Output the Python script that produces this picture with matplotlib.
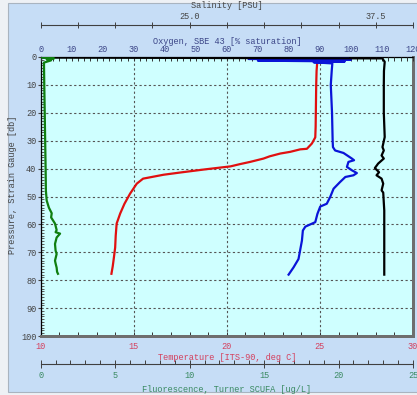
"""CTD cast profile: temperature, oxygen, salinity, fluorescence vs pressure."""
import matplotlib

matplotlib.use("Agg")
import matplotlib.pyplot as plt
from matplotlib.patches import Rectangle
from matplotlib.ticker import FixedLocator, MultipleLocator

# --- data ----------------------------------------------------------------
temp_p = [0.5, 5, 10, 15, 20, 25, 28.8, 31, 32.9, 33.1, 34, 34.6, 35.6, 36.4,
          37.6, 38.4, 39.2, 40.3, 41.4, 42.2, 43.6, 45.4, 47.2, 49, 52.6, 56.1,
          59.7, 64, 68.3, 72, 75, 77.7]
temp_c = [24.87, 24.82, 24.8, 24.79, 24.78, 24.77, 24.75, 24.57, 24.3, 23.94,
          23.4, 22.87, 22.3, 21.97, 21.25, 20.7, 20.2, 18.8, 17.5, 16.6, 15.5,
          15.16, 14.98, 14.8, 14.5, 14.27, 14.08, 14.03, 14.0, 13.93, 13.87, 13.8]

oxy_p = [0.4, 0.7, 1.0, 1.3, 1.6, 1.9, 2.3, 5, 10, 15, 20, 25, 30, 32.3, 33.5,
         34.4, 36.4, 37, 37.6, 39.4, 40.6, 41.6, 42.4, 43, 44.8, 47.2, 50.2,
         52.6, 53.6, 56.2, 59.2, 60.8, 62.2, 65.8, 69.4, 72.4, 75.4, 78]
oxy_sat = [99, 67, 100, 70, 98, 88, 94, 93.8, 93.5, 93.7, 93.9, 94, 94.1, 94.2,
           94.9, 97.6, 100.3, 101, 99.2, 98.7, 100.3, 101.9, 100.8, 98.2, 96.5,
           94.4, 93.3, 92.2, 90.1, 89.2, 88.5, 85.3, 84.5, 84.2, 83.6, 83.1,
           81.5, 79.9]

sal_p = [0.2, 0.5, 1.0, 1.7, 5, 10, 20, 28.7, 32.3, 33.5, 35.3, 36.4, 38.2,
         39.8, 41.3, 42.4, 43.6, 45.4, 47.8, 48.6, 55, 65, 78]
sal_psu = [15.0, 37.95, 38.0, 38.1, 38.05, 38.04, 38.04, 38.1, 37.95, 38.04,
           37.89, 38.04, 37.66, 37.44, 37.72, 37.55, 37.89, 38.0, 37.89, 38.0,
           38.07, 38.07, 38.07]

fl_p = [0.2, 0.5, 0.8, 1.2, 2, 10, 20, 30, 40, 48, 51.4, 54, 56, 57.5, 59.7,
        62, 62.8, 63.3, 64.7, 67, 69.4, 70.6, 73, 74, 75.5, 77, 77.7]
fl_ugl = [0.1, 0.9, 0.4, 0.7, 0.22, 0.24, 0.27, 0.3, 0.33, 0.35, 0.4, 0.55,
          0.74, 0.7, 0.96, 1.07, 1.0, 1.3, 1.07, 0.96, 1.0, 1.07, 0.96, 1.0,
          1.07, 1.1, 1.16]

# --- styling -----------------------------------------------------------------
W, H = 417, 395
PX = 0.72  # points per pixel at dpi 100
plt.rcParams["font.family"] = ["Liberation Mono", "DejaVu Sans Mono"]
plt.rcParams["font.size"] = 6.2

C_TEMP, C_OXY, C_SAL, C_FL = "#d4405e", "#3c4688", "#464646", "#3a8a62"

fig = plt.figure(figsize=(W / 100, H / 100), dpi=100, facecolor="#eef1f5")
fig.patches.append(Rectangle((8 / W, 3 / H), 1.0, 389 / H, transform=fig.transFigure,
                             facecolor="#c6ddf6", edgecolor="#a9b4c0", lw=0.8, zorder=-10))

ax = fig.add_axes([40.7 / W, 59 / H, 372.3 / W, 279 / H])
ax.set_facecolor("#cfffff")
ax.set_xlim(10, 30)
ax.set_ylim(100, 0)

# pressure axis
ax.yaxis.set_major_locator(MultipleLocator(10))
ax.yaxis.set_minor_locator(MultipleLocator(1))
ax.tick_params(axis="y", which="major", direction="out", length=3 * PX, width=0.8,
               colors="#444444", labelsize=6.2, pad=1)
ax.tick_params(axis="y", which="minor", direction="in", length=3 * PX, width=0.6, color="#444444")

# temperature axis (bottom)
ax.xaxis.set_major_locator(MultipleLocator(5))
ax.xaxis.set_minor_locator(MultipleLocator(1))
ax.tick_params(axis="x", which="both", direction="in", length=4 * PX, width=0.7, color="#333333")
ax.tick_params(axis="x", which="major", labelcolor=C_TEMP, pad=4)

ax.grid(True, which="major", color="#555555", lw=0.8, ls=(0, (2, 2.2)))
for side in ("left", "top"):
    ax.spines[side].set_color("black")
    ax.spines[side].set_linewidth(0.9)
for side in ("right", "bottom"):
    ax.spines[side].set_color("#6e6e6e")
    ax.spines[side].set_linewidth(3 * PX)

ax.plot(temp_c, temp_p, color="#e01010", lw=1.6, zorder=3)

# oxygen axis (top)
ax_o = ax.twiny()
ax_o.set_xlim(0, 120)
ax_o.xaxis.set_major_locator(MultipleLocator(10))
ax_o.xaxis.set_minor_locator(MultipleLocator(2))
ax_o.tick_params(axis="x", which="both", direction="in", length=4 * PX, width=0.7,
                 color="#333333", pad=2)
ax_o.tick_params(axis="x", which="major", labelcolor=C_OXY)
for s in ax_o.spines.values():
    s.set_visible(False)
ax_o.plot(oxy_sat, oxy_p, color="#0a14d8", lw=1.6, zorder=3)

# salinity axis (floating, above oxygen)
ax_s = ax.twiny()
ax_s.set_xlim(15, 40)
for name, s in ax_s.spines.items():
    s.set_visible(name == "top")
ax_s.spines["top"].set_position(("axes", 1.1147))
ax_s.spines["top"].set_color("#404040")
ax_s.spines["top"].set_linewidth(0.8)
ax_s.xaxis.set_major_locator(FixedLocator([25, 37.5]))
ax_s.xaxis.set_minor_locator(MultipleLocator(2.5))
ax_s.set_xticklabels(["25.0", "37.5"])
ax_s.tick_params(axis="x", which="both", direction="inout", length=6 * PX, width=0.7,
                 color="#404040", labelcolor=C_SAL, pad=1)
ax_s.plot(sal_psu, sal_p, color="black", lw=1.6, zorder=3)

# fluorescence axis (floating, below temperature)
ax_f = ax.twiny()
ax_f.set_xlim(0, 25)
ax_f.xaxis.set_ticks_position("bottom")
for name, s in ax_f.spines.items():
    s.set_visible(name == "bottom")
ax_f.spines["bottom"].set_position(("axes", -0.1004))
ax_f.spines["bottom"].set_color("#404040")
ax_f.spines["bottom"].set_linewidth(0.8)
ax_f.xaxis.set_major_locator(MultipleLocator(5))
ax_f.xaxis.set_minor_locator(MultipleLocator(1))
ax_f.tick_params(axis="x", which="major", direction="inout", length=8 * PX, width=0.7,
                 color="#404040", labelcolor=C_FL, pad=2)
ax_f.tick_params(axis="x", which="minor", direction="in", length=4 * PX, width=0.7, color="#404040")
ax_f.plot(fl_ugl, fl_p, color="#0f7f10", lw=1.6, zorder=3)

# axis titles
cx = (40.7 + 413) / 2 / W
fig.text(cx, 1 - 6 / H, "Salinity [PSU]", color=C_SAL, ha="center", va="center")
fig.text(cx, 1 - 42 / H, "Oxygen, SBE 43 [% saturation]", color=C_OXY, ha="center", va="center")
fig.text(cx, 1 - 357 / H, "Temperature [ITS-90, deg C]", color=C_TEMP, ha="center", va="center")
fig.text(cx, 1 - 389 / H, "Fluorescence, Turner SCUFA [ug/L]", color=C_FL, ha="center", va="center")
fig.text(13 / W, 1 - 185 / H, "Pressure, Strain Gauge [db]", color="#444444",
         rotation=90, ha="center", va="center")

fig.savefig("out.png", dpi=100, facecolor=fig.get_facecolor())
